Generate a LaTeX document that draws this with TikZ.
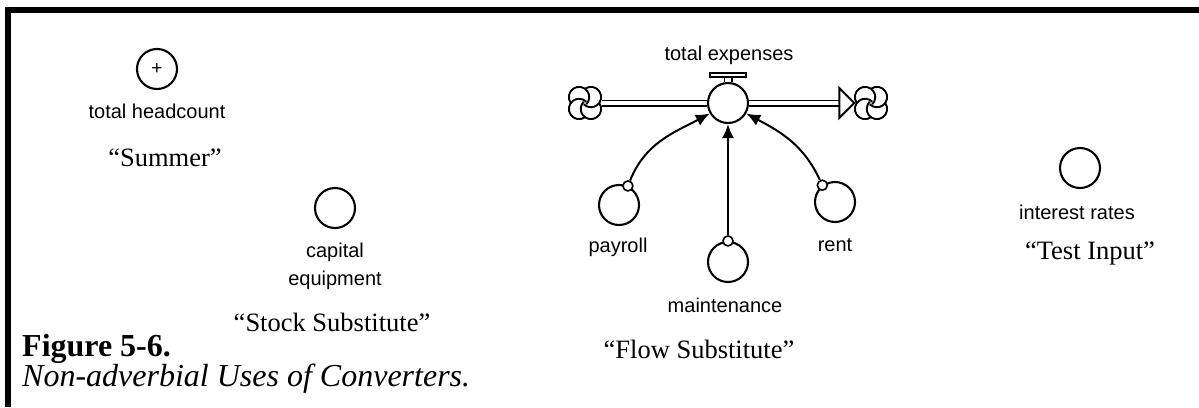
\documentclass[tikz,border=0pt]{standalone}
\usepackage{fontspec}
\setmainfont{Liberation Serif}
\setsansfont{Liberation Sans}
\usetikzlibrary{arrows.meta,calc}

\tikzset{
  cloudpic/.pic={
    \foreach \a in {45,135,225,315} {
      \draw[line width=1.9pt] (\a:8.4) ++(\a-80:10.2)
        arc[start angle=\a-80, end angle=\a+180, radius=10.2];
    }
  }
}

\begin{document}
\begin{tikzpicture}[x=1pt,y=-1pt,
  conv/.style={circle, draw, line width=2.1pt, minimum size=40pt, inner sep=0pt, fill=white},
  lbl/.style={font=\sffamily\fontsize{20}{28}\selectfont, align=center, inner sep=0pt},
  quote/.style={font=\rmfamily\fontsize{26.5}{30}\selectfont, inner sep=0pt},
  tap/.style={circle, draw, line width=1.6pt, minimum size=10pt, inner sep=0pt, fill=white},
  link/.style={line width=2pt, -{Latex[length=14pt,width=12pt]}},
  pipe/.style={double, line width=1.8pt, double distance=3.4pt},
  stem/.style={double, line width=1.8pt, double distance=5.4pt},
  frame/.style={line width=6pt, line join=miter},
  cloudnode/.style={circle, minimum size=33pt, inner sep=0pt},
]
\useasboundingbox (0,0) rectangle (1199,407);

% page frame: top and left rules
\coordinate (fbl) at (8,407);
\coordinate (ftl) at (8,10);
\coordinate (ftr) at (1199,10);
\draw[frame] (fbl) -- (ftl) -- (ftr);

% "Summer" converter
\node[conv] (head) at (157,69) {\sffamily\fontsize{19}{19}\selectfont +};
\node[lbl] (headlbl) at (157,111) {total headcount};
\node[quote] (summer) at (165,158) {“Summer”};

% stock substitute
\node[conv] (capital) at (335,208) {};
\node[lbl] (capitallbl) at (335,266) {capital\\equipment};
\node[quote] (stocksub) at (332,322) {“Stock Substitute”};

% test input
\node[conv] (interest) at (1080,168) {};
\node[lbl] (interestlbl) at (1077,212) {interest rates};
\node[quote] (testin) at (1090,253) {“Test Input”};

% flow substitute: clouds, pipe and valve
\node[cloudnode] (src) at (585,103) {};
\node[cloudnode] (sink) at (871,103) {};
\pic at (src.center) {cloudpic};
\pic at (sink.center) {cloudpic};

\node[conv] (valve) at (728,103) {};
\node[draw, line width=1.6pt, fill=white, minimum width=36pt, minimum height=4pt, inner sep=0pt] (bar) at (728,75) {};
\draw[stem] (valve.north) -- (bar.south);
\node[lbl] (valvelbl) at (729,55) {total expenses};

\coordinate (tipbase) at ($(sink.west)+(-15,0)$);
\draw[pipe] (src.east) -- (valve.west);
\draw[pipe] (valve.east) -- (tipbase);
\draw[line width=1.9pt, fill=white, line join=miter] (sink.west) -- ($(tipbase)+(0,-15)$) -- ($(tipbase)+(0,15)$) -- cycle;

% inputs to the flow
\node[conv] (pay) at (619,205) {};
\node[conv] (maint) at (728,262) {};
\node[conv] (rent) at (835,202) {};
\node[tap] (ptap) at (pay.65) {};
\node[tap] (mtap) at (maint.90) {};
\node[tap] (rtap) at (rent.127) {};

\draw[link] (ptap) to[out=68, in=208] (valve.210);
\draw[link] (mtap) -- (valve.south);
\draw[link] (rtap) to[out=115, in=-28] (valve.330);

\node[lbl] (paylbl) at (618,247) {payroll};
\node[lbl] (maintlbl) at (725,305) {maintenance};
\node[lbl] (rentlbl) at (835,245) {rent};
\node[quote] (flowsub) at (699,349) {“Flow Substitute”};

% caption
\node[anchor=west, inner sep=0pt, font=\bfseries\fontsize{32}{36}\selectfont] (figno) at (22,349) {Figure 5-6.};
\node[anchor=west, inner sep=0pt, font=\itshape\fontsize{32}{36}\selectfont] (figtitle) at (22,379) {Non-adverbial Uses of Converters.};
\end{tikzpicture}
\end{document}
